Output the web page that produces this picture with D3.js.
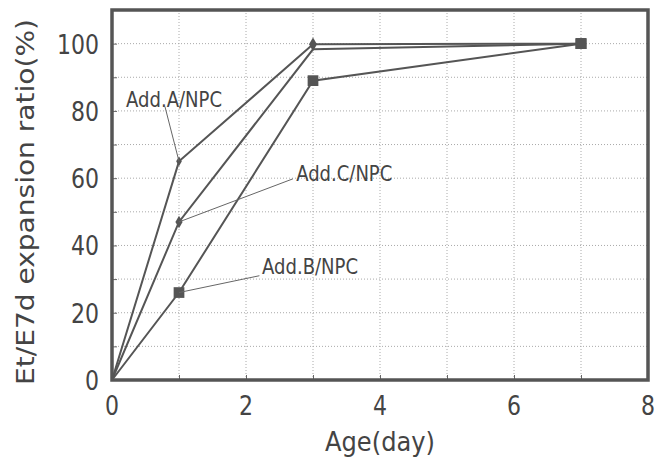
<!DOCTYPE html>
<html>
<head>
<meta charset="utf-8">
<script src="https://cdn.jsdelivr.net/npm/d3@7"></script>
<style>
	body { margin: 0; background: #fff; }
	svg text { font-family: 'DejaVu Sans Condensed', 'DejaVu Sans', sans-serif; font-stretch: condensed; fill: #444; }
</style>
</head>
<body>
<svg id="svgchart"></svg>
<script>
'use strict'

// data (age in days, ratio in %)
const days = [0, 1, 3, 7]
const addA = [0, 65, 99.8, 100]
const addB = [0, 26, 89, 100]
const addC = [0, 47, 98.3, 100]

const xTicks = [0, 2, 4, 6, 8]
const yTicks = [0, 20, 40, 60, 80, 100]

// label text + where it sits (data units) + where its leader line starts
const labels = [
	{text: 'Add.A/NPC', lx: 0.21, ly: 81.3, ax: 0.79, ay: 81.3, series: addA, idx: 1},
	{text: 'Add.C/NPC', lx: 2.75, ly: 59.2, ax: 2.7, ay: 59.8, series: addC, idx: 1},
	{text: 'Add.B/NPC', lx: 2.24, ly: 31.5, ax: 2.2, ay: 31.0, series: addB, idx: 1}
]

const W = 667, H = 457
const x = d3.scaleLinear().domain([0, 8]).range([112, 648])
const y = d3.scaleLinear().domain([0, 110]).range([380, 10])

const svg = d3.select('#svgchart').attr('width', W).attr('height', H)

// dotted grid: every day and every 10 %
svg.append('g').selectAll('line')
	.data(d3.range(1, 8))
	.enter().append('line')
	.attr('x1', d => x(d)).attr('x2', d => x(d))
	.attr('y1', y(0)).attr('y2', y(110))
	.attr('stroke', '#aaa').attr('stroke-width', 1).attr('stroke-dasharray', '1,2')
svg.append('g').selectAll('line')
	.data(d3.range(10, 110, 10))
	.enter().append('line')
	.attr('x1', x(0)).attr('x2', x(8))
	.attr('y1', d => y(d)).attr('y2', d => y(d))
	.attr('stroke', '#aaa').attr('stroke-width', 1).attr('stroke-dasharray', '1,2')

// axes with inward ticks
svg.append('g')
	.attr('transform', 'translate(0,' + y(0) + ')')
	.call(d3.axisBottom(x).tickValues(d3.range(0, 9)).tickSizeInner(-5).tickSizeOuter(0).tickFormat(''))
svg.append('g')
	.attr('transform', 'translate(' + x(0) + ',0)')
	.call(d3.axisLeft(y).tickValues(d3.range(0, 111, 10)).tickSizeInner(-5).tickSizeOuter(0).tickFormat(''))
svg.selectAll('.domain').remove()
svg.selectAll('.tick line').attr('stroke', '#666')

// tick labels (tall, narrow digits)
svg.append('g').selectAll('text')
	.data(xTicks)
	.enter().append('text')
	.attr('x', d => x(d) - 7).attr('y', 415)
	.attr('textLength', 14).attr('lengthAdjust', 'spacingAndGlyphs')
	.style('font-size', '27px')
	.text(d => d)
svg.append('g').selectAll('text')
	.data(yTicks)
	.enter().append('text')
	.attr('x', d => 99 - String(d).length * 14).attr('y', d => y(d) + 10)
	.attr('textLength', d => String(d).length * 14).attr('lengthAdjust', 'spacingAndGlyphs')
	.style('font-size', '27px')
	.text(d => d)

// axis titles
svg.append('text')
	.attr('x', 325).attr('y', 451)
	.attr('textLength', 110).attr('lengthAdjust', 'spacingAndGlyphs')
	.style('font-size', '26px')
	.text('Age(day)')
svg.append('text')
	.attr('transform', 'translate(34,385) rotate(-90)')
	.attr('textLength', 366).attr('lengthAdjust', 'spacingAndGlyphs')
	.style('font-size', '24px')
	.text('Et/E7d expansion ratio(%)')

// plot frame
svg.append('rect')
	.attr('x', x(0)).attr('y', y(110))
	.attr('width', x(8) - x(0)).attr('height', y(0) - y(110))
	.attr('fill', 'none').attr('stroke', '#555').attr('stroke-width', 3.5)

// series lines
const line = d3.line().x((d, i) => x(days[i])).y(d => y(d))
const series = [
	{vals: addA, marker: 'diamond', size: [28, 55]},
	{vals: addC, marker: 'diamond', size: [45, 0]},
	{vals: addB, marker: 'square', size: [115, 115]}
]
series.forEach(s => {
	svg.append('path')
		.attr('d', line(s.vals))
		.attr('fill', 'none').attr('stroke', '#555').attr('stroke-width', 2)
})

// markers (not at the origin)
series.forEach(s => {
	svg.append('g').selectAll('path')
		.data(s.vals.map((v, i) => ({d: days[i], v: v})).filter(p => p.d > 0))
		.enter().append('path')
		.attr('transform', p => 'translate(' + x(p.d) + ',' + y(p.v) + ')')
		.attr('d', p => {
			const sz = p.d === 7 ? 115 : (p.d === 1 ? s.size[0] : s.size[1])
			const sym = (s.marker === 'square' || p.d === 7) ? d3.symbolSquare : d3.symbolDiamond
			return d3.symbol().type(sym).size(sz)()
		})
		.attr('fill', '#555')
})

// labels with leader lines
labels.forEach(l => {
	svg.append('line')
		.attr('x1', x(l.ax)).attr('y1', y(l.ay))
		.attr('x2', x(days[l.idx])).attr('y2', y(l.series[l.idx]))
		.attr('stroke', '#666').attr('stroke-width', 1)
	svg.append('text')
		.attr('x', x(l.lx)).attr('y', y(l.ly))
		.attr('textLength', 96).attr('lengthAdjust', 'spacingAndGlyphs')
		.style('font-size', '21px')
		.text(l.text)
})
</script>
</body>
</html>
